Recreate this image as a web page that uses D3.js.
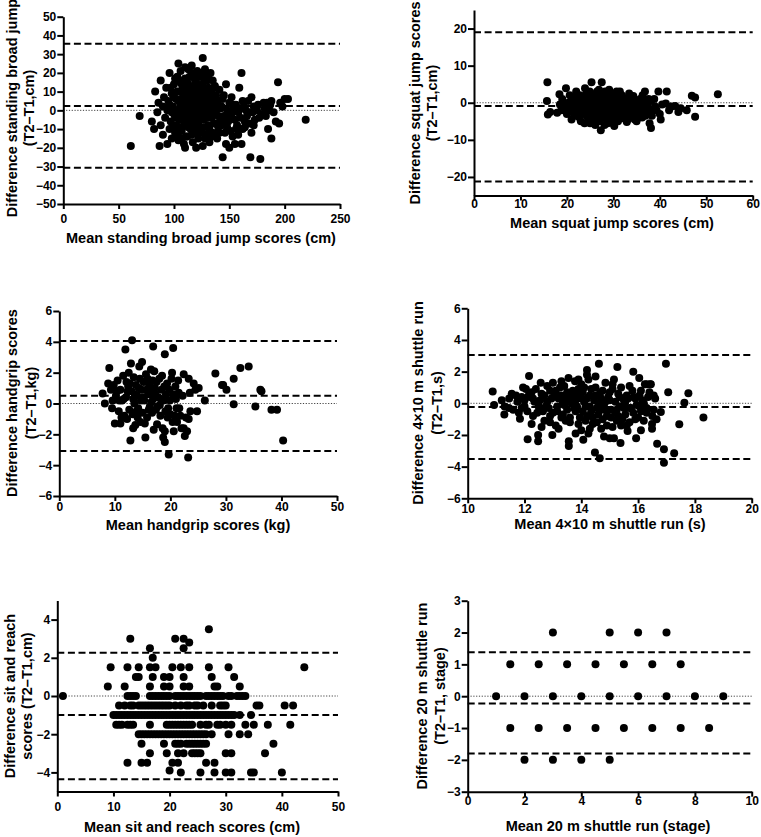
<!DOCTYPE html>
<html><head><meta charset="utf-8">
<script src="https://cdn.jsdelivr.net/npm/d3@7"></script>
<style>
html,body{margin:0;padding:0;background:#fff;}
svg{display:block;}
text{font-family:"Liberation Sans",Arial,sans-serif;font-weight:bold;fill:#000;}
</style></head>
<body>
<svg id="c" width="761" height="837"></svg>
<script>
// ---------------- DATA ----------------
// Panel 1: standing broad jump [mean, difference]
const broadJump = [[61,-19],[69,-3],[80,-6],[82,-10],[83,10],[85,-1],[86,4],[87,-19],[88,16],[88,-8],[90,2],[90,-13],[91,7],[92,-4],[93,12],[94,-18],[94,0],[95,5],[96,20],[96,-10],[97,-6],[98,9],[98,-15],[99,2],[100,14],[100,-2],[101,-12],[102,6],[102,-8],[103,18],[104,25],[104,0],[104,-16],[105,10],[105,-5],[106,3],[107,-11],[107,14],[108,7],[108,-3],[109,-18],[110,17],[110,1],[110,-20],[111,-8],[111,11],[112,4],[112,-14],[113,22],[113,-1],[114,8],[114,-6],[115,13],[115,-10],[116,24],[116,2],[117,-17],[117,5],[118,-3],[118,19],[119,10],[119,-12],[120,15],[120,-20],[120,0],[121,21],[121,6],[122,-7],[122,-15],[123,11],[123,3],[124,-2],[124,18],[125,8],[125,-10],[126,28],[126,-19],[126,14],[127,1],[127,-5],[128,22],[128,9],[129,-13],[129,4],[130,16],[130,-1],[131,-8],[131,12],[132,6],[132,-17],[133,2],[133,20],[134,-4],[134,10],[135,16],[135,-12],[136,5],[136,-7],[137,0],[137,13],[138,-2],[138,8],[139,-15],[140,3],[140,-9],[141,11],[142,-5],[142,1],[143,-8],[144,-25],[144,6],[145,-3],[146,-12],[147,14],[147,-18],[148,0],[149,-6],[150,-20],[150,4],[151,-11],[152,7],[152,-2],[153,-14],[154,1],[155,-18],[155,-5],[156,3],[157,-8],[158,-1],[159,12],[160,-4],[161,20],[161,-18],[162,-10],[163,2],[164,-6],[165,0],[166,-3],[167,5],[168,-7],[169,-25],[170,7],[170,-12],[171,-1],[172,2],[173,-5],[175,0],[176,3],[178,-26],[180,-2],[182,1],[184,4],[185,-10],[186,0],[187,3],[188,-15],[188,5],[190,-1],[192,-6],[194,15],[195,-7],[196,4],[198,2],[200,6],[203,6],[219,-5],
  [96,3],[97,12],[98,-1],[99,-9],[100,7],[101,17],[101,-4],[102,0],[103,10],[103,-13],[104,5],[105,-9],[105,16],[106,-2],[106,21],[107,4],[107,-15],[108,12],[109,-6],[109,9],[110,-4],[110,23],[111,5],[111,-14],[112,15],[112,-1],[113,-9],[114,3],[114,18],[115,-4],[115,6],[116,-13],[116,11],[117,0],[117,20],[118,7],[118,-8],[119,-2],[119,16],[120,5],[120,-6],[121,12],[121,-10],[122,2],[122,18],[123,-4],[123,8],[124,-12],[124,13],[125,3],[125,20],[126,-1],[126,7],[127,-9],[127,17],[128,3],[128,-15],[129,11],[130,-4],[130,7],[131,0],[131,19],[132,-10],[133,9],[134,-14],[135,4],[136,-2],[136,12],[138,-7],[139,5],[140,-3],[141,-12],[143,2],[145,8],[146,-6],[148,-9],[151,-3],[153,3],[156,-10],[158,-13],[160,1],[162,5],[164,-9],[167,-1],[172,-8],[177,-4],[181,4],[183,-3]];
const broadJumpLines = [35.5, 2.3, -30.7];

// Panel 2: squat jump
const squatJump = [[15.8,5.5],[15.7,0.5],[15.9,-3.2],[16.4,-2.5],[17.9,-2.7],[18.4,2.3],[18.5,-0.5],[19,1],[19.5,-1.5],[19.8,3.9],[20,-3],[20.3,0],[20.6,2],[21,-2],[21,-4.5],[21.3,1],[21.6,-1],[22,3],[22,-3.5],[22.3,0.5],[22.5,-2],[22.8,2],[23,-5],[23,-1],[23.3,1.5],[23.5,-3],[23.7,0],[23.9,3.9],[24,-2],[24.2,2.5],[24.5,-4],[24.5,-0.5],[24.8,1],[25,-5.5],[25,-1.5],[25.3,5.5],[25.3,0.5],[25.5,-3],[25.7,2],[26,-2],[26,-4.5],[26.2,1],[26.5,-1],[26.5,3],[26.8,-3.5],[27,0],[27,-5],[27.3,-7.4],[27.3,2],[27.5,5.5],[27.5,-2],[27.8,1],[28,-1],[28,-4],[28.2,3],[28.5,-2.5],[28.5,0.5],[28.8,-5.5],[29,1.5],[29,-3],[29.3,-0.5],[29.5,2.5],[29.5,-4.5],[29.8,-1.5],[30,0],[30,-2.5],[30.2,-6.3],[30.3,1],[30.5,-3.5],[30.7,3],[31,-1],[31,-5],[31.3,0.5],[31.5,-2],[31.8,2],[32,-3.5],[32.2,-0.5],[32.5,1],[32.9,-5.2],[33,-2],[33.3,0],[33.5,-4],[33.8,1.5],[34,-1.5],[34.3,1.8],[34.5,-3],[34.8,-0.5],[35,-5],[35.2,0.5],[35.5,-2.5],[35.8,1],[36,-1],[36.2,-4],[36.5,-2],[36.8,3],[37,0],[37.2,-3],[37.5,-1.5],[37.8,-5.5],[38,0.5],[38.1,-6.8],[38.5,-2],[39,-1],[39.7,3],[40,-3],[40.5,-0.5],[41.3,-0.2],[41.5,3],[42,-2],[43.3,-0.9],[44,-2.5],[45.8,-2],[46.9,1.9],[47.6,1.4],[47.6,-3.8],[52.5,2.3],[21.5,-3],[22.2,-1.5],[22.7,-4],[23.2,0.5],[23.6,-2.5],[24.1,1],[24.4,-3.5],[24.7,-1],[25.2,2.5],[25.6,-4],[25.9,0],[26.3,-2.5],[26.7,-0.5],[27.2,1.5],[27.6,-3],[27.9,-1.5],[28.3,2],[28.7,-4.5],[29.2,-2],[29.6,0.5],[30.1,-1],[30.5,2],[30.9,-4],[31.2,-2.5],[31.6,-0.5],[32,1.5],[32.4,-3],[32.7,-1.5],[33.1,-4.5],[33.6,0.5],[34.1,-2.5],[34.6,-4.5],[35.1,-1],[35.6,-3.5],[36.1,0],[36.6,-1.5],[37.1,-2.5],[37.6,1],[38.3,-3.5],[39.3,-2],[20.8,-1],[21.8,1.5],[19.3,-0.5],[18.8,-2],[23.8,-5.5],[26.1,-6],[28.1,-6],[29.9,-5.5],[24.9,3],[26.9,3.5],[29.1,3.5],[31.4,3],[33.4,2.5],[36.3,2],[38.8,1],[40.2,-4.5],[42.5,-1],[44.5,-1.5],
  [21.2,-0.5],[21.7,0.3],[22.1,-2.5],[22.4,1],[22.9,-0.5],[23.4,-2],[23.9,0.8],[24.3,-1.2],[24.6,0.3],[25.1,-3.2],[25.4,-0.8],[25.8,1.2],[26.4,-3.2],[26.6,0.6],[27.1,-1.2],[27.4,-4.2],[27.7,0.3],[28.2,-2.8],[28.6,-0.8],[28.9,0.8],[29.4,-3.6],[29.7,-0.2],[30.2,1.5],[30.6,-1.8],[30.8,0.2],[31.1,-3],[31.7,-1.2],[32.1,0.3],[32.6,-2.3],[33.2,-1],[33.7,-3],[34.2,0.3],[34.7,-1.8],[35.3,-3.8],[35.9,-2],[36.4,0.6],[36.9,-3.5],[37.4,-0.7],[26.3,2.3],[28.4,1.2],[24.3,-2.7],[31.9,-4.2]];
const squatJumpLines = [19, -0.9, -21.2];

// Panel 3: handgrip
const handgrip = [[7.8,0.65],[8.2,0],[8.8,1.3],[9,2.3],[9.3,0.9],[9.5,-0.3],[9.8,1.2],[10,-1.3],[10.2,0.5],[10.5,1.5],[10.7,-0.5],[11,-1.3],[11,0.9],[11.3,0.2],[11.5,1.8],[11.7,-0.8],[11.9,3.5],[12,0.4],[12.2,-1],[12.4,1.1],[12.5,2],[12.6,-0.4],[12.8,-2.4],[12.9,2.6],[13,0.8],[13.1,4.1],[13.2,-0.7],[13.4,1.7],[13.5,0],[13.7,-1.4],[13.8,1.2],[14,0.5],[14.2,-0.3],[14.4,2.4],[14.5,1.6],[14.6,-1.2],[14.8,0.9],[15,-0.6],[15.2,1.4],[15.3,0.2],[15.5,-2.2],[15.6,1.9],[15.8,-0.9],[16,0.6],[16.2,1.2],[16.3,-0.2],[16.5,2.2],[16.7,-0.6],[16.9,3.7],[16.9,0.3],[17.1,2.1],[17.2,1],[17.4,-0.4],[17.6,-1.35],[17.8,0.4],[18,1.6],[18.2,-0.8],[18.4,0.9],[18.6,-1.6],[18.8,0.2],[19,3.2],[19,-1.8],[19,-2.5],[19.2,0.6],[19.4,1.3],[19.5,-0.9],[19.7,-3.3],[19.8,0.9],[20,-0.7],[20.2,1.6],[20.3,2],[20.5,3.6],[20.5,0.6],[20.6,-1.8],[20.8,-0.8],[21,0.3],[21.2,-1.2],[21.5,0.7],[21.8,-0.8],[22,-1.6],[22.2,0.5],[22.4,1.9],[22.4,-1.6],[22.6,-2.1],[23,-1.8],[23.2,-3.5],[23.3,1.6],[23.3,-1],[23.5,0.7],[23.6,-0.5],[24.2,1.3],[24.5,0.9],[24.8,-0.5],[25.1,1],[26.2,0.2],[28.1,1.95],[29.3,1.2],[29.5,1.2],[30.1,0.9],[31.4,1.6],[31.4,-0.05],[32.6,2.3],[34.1,2.4],[35.3,-0.2],[36.2,0.9],[36.4,0.8],[38.2,-0.4],[39.2,-0.4],[40.3,-2.4],[12.1,1.4],[13.6,0.6],[14.1,-0.9],[15.1,0.4],[15.9,1.6],[16.6,0.1],[17.5,1.4],[18.1,-0.1],[18.9,1.1],[19.6,-0.3],[20.9,1.1],[21.6,-0.3],[14.9,2.7],[11.2,-0.9],[10.8,0.2],
  [11.6,0.3],[12.3,0.8],[12.7,1.3],[13.3,0.3],[13.9,-0.5],[14.3,1],[14.7,0.2],[15.4,-1.3],[15.7,0.9],[16.1,-0.4],[16.4,0.8],[16.8,1.5],[17.3,0.6],[17.7,-0.2],[18.3,0.3],[18.5,1.8],[19.1,-0.5],[19.9,0.2],[20.4,-1.2],[21.1,-0.3],[21.4,1.5],[22.8,-0.9],[10.4,0.8],[9.6,0.2],[13.3,-1.6],[17,-1.7],[18.7,-2.2]];
const handgripLines = [4.05, 0.5, -3.08];

// Panel 4: 4x10 m shuttle run
const shuttle4x10 = [[10.88,0.74],[10.93,-0.1],[11.29,-0.7],[11.46,0.3],[11.55,0.6],[11.7,0.5],[11.84,-0.97],[11.9,-0.3],[12.0,0.2],[12.1,-0.5],[12.11,-2.27],[12.16,1.73],[12.2,0.4],[12.3,-0.8],[12.4,0.9],[12.48,-2.4],[12.48,-2.0],[12.5,-0.2],[12.57,1.3],[12.6,0.6],[12.7,-1.1],[12.8,0.1],[12.9,0.8],[12.98,-2.0],[13.0,1.3],[13.0,-0.6],[13.1,-1.4],[13.2,0.3],[13.3,-0.9],[13.4,1.1],[13.4,-0.1],[13.5,0.7],[13.56,-2.7],[13.56,-2.4],[13.6,-1.2],[13.7,0.4],[13.78,1.4],[13.8,-0.5],[13.9,0.9],[14.0,-1.7],[14.07,-2.3],[14.1,0.1],[14.2,2.1],[14.2,1.8],[14.2,-0.8],[14.25,1.5],[14.3,0.5],[14.4,-1.3],[14.48,-3.1],[14.5,1.0],[14.55,-0.3],[14.62,2.5],[14.65,-3.47],[14.7,0.3],[14.75,-1.0],[14.8,-2.1],[14.85,1.3],[14.9,-0.5],[15.0,0.7],[15.0,-2.2],[15.1,-1.5],[15.15,-2.2],[15.2,0.1],[15.27,2.3],[15.3,-0.8],[15.38,-2.5],[15.4,1.0],[15.5,-0.3],[15.6,0.5],[15.63,-1.75],[15.7,-1.2],[15.83,2.0],[15.83,-0.6],[15.9,0.3],[15.93,-2.2],[16.0,-0.9],[16.04,1.6],[16.1,0.8],[16.24,1.2],[16.3,-0.6],[16.3,1.2],[16.42,1.2],[16.45,1.2],[16.49,-1.3],[16.49,-1.6],[16.65,-1.0],[16.67,-2.55],[16.8,-0.55],[16.91,-2.9],[16.91,-3.75],[16.98,2.5],[17.06,0.7],[17.27,-3.16],[17.45,-1.33],[17.63,0.04],[17.77,0.63],[18.3,-0.9],[11.3,-0.2],[11.6,-0.4],[12.05,0.9],[12.35,0.1],[12.65,-0.5],[12.85,-0.3],[13.05,0.5],[13.15,-0.2],[13.25,1.0],[13.35,-0.7],[13.45,0.2],[13.65,0.0],[13.75,-0.3],[13.85,0.5],[13.95,-0.9],[14.05,0.7],[14.15,-0.2],[14.35,-0.5],[14.45,0.2],[14.6,-0.7],[14.65,0.6],[14.8,-0.2],[14.95,0.4],[15.05,-0.9],[15.25,-0.4],[15.35,0.4],[15.45,-1.0],[15.55,0.1],[15.75,-0.3],[15.85,0.4],[16.05,-0.2],[16.15,0.2],[16.2,-1.1],[16.35,0.4],[16.55,-0.4],[16.6,0.3],[12.25,-1.3],[13.2,-1.6],[14.25,-1.9],[14.9,-1.4],[13.55,1.6],[14.0,1.2],[15.15,1.5],[15.7,1.1],[12.8,1.1],[11.95,1.0],
  [11.2,0.2],[11.45,-0.3],[11.75,0.1],[11.8,-0.6],[12.0,-0.2],[12.15,0.5],[12.3,0.3],[12.45,-0.6],[12.55,0.2],[12.7,0.5],[12.75,-0.2],[12.9,-0.8],[12.95,0.3],[13.1,0.8],[13.15,-0.5],[13.3,0.5],[13.35,0.0],[13.5,-0.4],[13.55,0.4],[13.6,-0.9],[13.7,0.8],[13.8,0.2],[13.85,-0.2],[13.9,-1.3],[14.0,0.3],[14.05,-0.5],[14.1,1.0],[14.2,0.3],[14.3,-0.2],[14.35,0.9],[14.4,-0.9],[14.5,0.5],[14.55,-1.2],[14.6,0.0],[14.7,-0.4],[14.75,0.8],[14.85,0.1],[14.9,-0.8],[15.0,0.2],[15.05,-0.4],[15.1,0.9],[15.2,-0.6],[15.3,0.6],[15.35,-0.2],[15.4,-1.4],[15.5,0.2],[15.55,-0.7],[15.65,0.3],[15.7,-0.3],[15.8,0.8],[15.9,-1.0],[15.95,-0.1],[16.05,0.5],[16.1,-0.5],[16.2,0.0],[16.3,-0.3],[16.4,0.7],[16.5,-0.8],[16.55,0.5],[13.3,1.4],[13.9,1.5],[14.5,1.7],[14.3,-1.6],[13.8,-1.9],[12.6,-1.5],[15.6,-1.4],[16.1,-1.7],[15.1,1.2],[12.9,-1.2],[13.45,-1.1],[14.15,-1.1],[14.7,-1.6],[15.25,-1.1],[12.25,0.7],[11.9,0.4]];
const shuttle4x10Lines = [3.05, -0.23, -3.52];

// Panel 5: sit and reach, rows of [difference, [means]]
const sitReachRows = [
  [3.5,[27]],
  [3,[13,21,22.5]],
  [2.8,[23.5]],
  [2.5,[16.5,22.5]],
  [2,[17]],
  [1.5,[9.5,12.5,14.5,16.5,17.5,20.5,22,23.5,27,30.5,44]],
  [1,[14,14.5,17,19,20,22.5,27.5,31.5]],
  [0.5,[9,12,16.5,19,20,22.5,23.5,28,28.5,32.5]],
  [0,[1,12.5,13,13.5,14,16.5,17,17.5,18,18.5,19,19.5,20,21,21.5,22,22.5,23,23.5,24,24.5,25,25.5,26.5,27,27.5,28,28.5,29,29.5,30.5,31,32,32.5,33,33.5]],
  [-0.5,[11,12,13,13.5,14.5,15,15.5,16,16.5,17,17.5,18,18.5,19,19.5,20,21,22,23,23.5,24.5,25,26,27.5,29,29.5,30,35.5,36,40.5,42]],
  [-1,[10,10.5,11,11.5,12,12.5,13,13.5,14,14.5,15,15.5,16,16.5,17,17.5,18,18.5,19,19.5,20,20.5,21,21.5,22,22.5,23,23.5,24,24.5,25,25.5,26,26.5,27,27.5,28,28.5,29,29.5,30,30.5,31,31.5,32.5,34.5]],
  [-1.5,[10.5,11,11.5,12.5,13,13.5,16.5,19.5,20,20.5,21,21.5,22,22.5,23,23.5,24,25.5,26.5,27,28.5,29,30,31,33.5,35,37.5,41.5]],
  [-2,[14.5,15,15.5,16,16.5,17,17.5,18,18.5,19,19.5,20,20.5,21,21.5,22,22.5,23,23.5,24,24.5,25,25.5,26,26.5,27.5,30.5,32.5,34]],
  [-2.5,[15,19,21,21.5,22,23,23.5,24,24.5,25,25.5,26,26.5,38.5]],
  [-3,[16.5,19.5,21.5,22.5,24,24.5,25,25.5,30,31,37]],
  [-3.5,[12.5,15,16,20.5,21.5,26.5,28]],
  [-3.9,[20]],
  [-4,[22,25.5,28,30,31,34.5,35,40]]
];
const sitReachLines = [2.27, -1.0, -4.36];

// Panel 6: 20 m shuttle run
const shuttle20m = [[3,2],[5,2],[6,2],[7,2],[1.5,1],[2.5,1],[3.5,1],[4.5,1],[5.5,1],[6.5,1],[7.5,1],[1,0],[2,0],[3,0],[4,0],[5,0],[6,0],[7,0],[8,0],[9,0],[1.5,-1],[2.5,-1],[3.5,-1],[4.5,-1],[5.5,-1],[6.5,-1],[7.5,-1],[8.5,-1],[2,-2],[3,-2],[4,-2],[5,-2]];
const shuttle20mLines = [1.38, -0.23, -1.8];

// tick labels
const ticks1x = [0,50,100,150,200,250], ticks1y = [-50,-40,-30,-20,-10,0,10,20,30,40,50];
const ticks2x = [0,10,20,30,40,50,60], ticks2y = [-20,-10,0,10,20];
const ticks3x = [0,10,20,30,40,50], ticks3y = [-6,-4,-2,0,2,4,6];
const ticks4x = [10,12,14,16,18,20], ticks4y = [-6,-4,-2,0,2,4,6];
const ticks5x = [0,10,20,30,40,50], ticks5y = [-4,-2,0,2,4];
const ticks6x = [0,2,4,6,8,10], ticks6y = [-3,-2,-1,0,1,2,3];

// ---------------- LAYOUT ----------------
const sitReach = sitReachRows.flatMap(([d, xs]) => xs.map(x => [x, d]));

const panels = [
  {data:broadJump, lines:broadJumpLines, xd:[0,250], xr:[63.3,340], yd:[-50,50], yr:[204,16.7], xt:ticks1x, yt:ticks1y,
   xTitle:"Mean standing broad jump scores (cm)", xTitleX:201, xTitleY:238, xLabY:15,
   yTitle:["Difference standing broad jump","(T2\u2013T1,cm)"], yTitleX:[12,29], yTitleY:108},
  {data:squatJump, lines:squatJumpLines, xd:[0,60], xr:[474,752.7], yd:[-25,25], yr:[195.5,10], xt:ticks2x, yt:ticks2y,
   xTitle:"Mean squat jump scores (cm)", xTitleX:612, xTitleY:223, xLabY:8,
   yTitle:["Difference squat jump scores","(T2\u2013T1,cm)"], yTitleX:[415,432], yTitleY:103},
  {data:handgrip, lines:handgripLines, xd:[0,50], xr:[59.3,337], yd:[-6,6], yr:[496,311], xt:ticks3x, yt:ticks3y,
   xTitle:"Mean handgrip scores (kg)", xTitleX:198, xTitleY:525, xLabY:11,
   yTitle:["Difference handgrip scores","(T2\u2013T1,kg)"], yTitleX:[12,31], yTitleY:403},
  {data:shuttle4x10, lines:shuttle4x10Lines, xd:[10,20], xr:[467.7,751.7], yd:[-6,6], yr:[498.3,308.3], xt:ticks4x, yt:ticks4y,
   xTitle:"Mean 4\u00d710 m shuttle run (s)", xTitleX:610, xTitleY:524, xLabY:10,
   yTitle:["Difference 4\u00d710 m shuttle run","(T2\u2013T1,s)"], yTitleX:[418,437], yTitleY:403},
  {data:sitReach, lines:sitReachLines, xd:[0,50], xr:[57.3,338], yd:[-5,5], yr:[791.5,600.5], xt:ticks5x, yt:ticks5y,
   xTitle:"Mean sit and reach scores (cm)", xTitleX:192, xTitleY:826.5, xLabY:15.5,
   yTitle:["Difference sit and reach","scores (T2\u2013T1,cm)"], yTitleX:[10,27], yTitleY:696},
  {data:shuttle20m, lines:shuttle20mLines, xd:[0,10], xr:[467.7,751.7], yd:[-3,3], yr:[791.7,600.7], xt:ticks6x, yt:ticks6y,
   xTitle:"Mean 20 m shuttle run (stage)", xTitleX:608, xTitleY:825.5, xLabY:9,
   yTitle:["Difference 20 m shuttle run","(T2\u2013T1, stage)"], yTitleX:[422,440], yTitleY:696}
];

const svg = d3.select("#c");
svg.append("rect").attr("width",761).attr("height",837).attr("fill","#fff");

panels.forEach(p => {
  const x = d3.scaleLinear().domain(p.xd).range(p.xr);
  const y = d3.scaleLinear().domain(p.yd).range(p.yr);
  const g = svg.append("g");

  g.append("line").attr("x1",p.xr[0]).attr("x2",p.xr[1]).attr("y1",y(0)).attr("y2",y(0))
    .attr("stroke","#444").attr("stroke-width",1).attr("stroke-dasharray","1.2,1.6");
  g.selectAll("line.loa").data(p.lines).join("line").attr("class","loa")
    .attr("x1",p.xr[0]).attr("x2",p.xr[1]).attr("y1",d=>y(d)).attr("y2",d=>y(d))
    .attr("stroke","#000").attr("stroke-width",2).attr("stroke-dasharray","7,3.6");
  g.selectAll("circle").data(p.data).join("circle")
    .attr("cx",d=>x(d[0])).attr("cy",d=>y(d[1])).attr("r",4).attr("fill","#000");

  const xa = g.append("g").attr("transform",`translate(0,${p.yr[0]})`)
    .call(d3.axisBottom(x).tickValues(p.xt).tickSize(5).tickSizeOuter(0).tickFormat(d3.format("d")));
  xa.selectAll(".tick text").attr("y",p.xLabY).attr("dy","0.36em");
  const ya = g.append("g").attr("transform",`translate(${p.xr[0]},0)`)
    .call(d3.axisLeft(y).tickValues(p.yt).tickSize(6).tickSizeOuter(0).tickPadding(1).tickFormat(d3.format("d")));
  [xa,ya].forEach(a => {
    a.select(".domain").attr("stroke","#000").attr("stroke-width",2);
    a.selectAll(".tick line").attr("stroke","#000").attr("stroke-width",2);
    a.selectAll(".tick text").attr("font-size",12).attr("font-weight","bold")
      .attr("font-family","'Liberation Sans',Arial,sans-serif").attr("fill","#000");
  });

  g.append("text").attr("x",p.xTitleX).attr("y",p.xTitleY).attr("text-anchor","middle")
    .attr("dominant-baseline","central").attr("font-size",14.5).text(p.xTitle);
  p.yTitle.forEach((t,i) => {
    g.append("text").attr("transform",`translate(${p.yTitleX[i]},${p.yTitleY}) rotate(-90)`)
      .attr("text-anchor","middle").attr("dominant-baseline","central").attr("font-size",14.5).text(t);
  });
});
</script>
</body></html>
